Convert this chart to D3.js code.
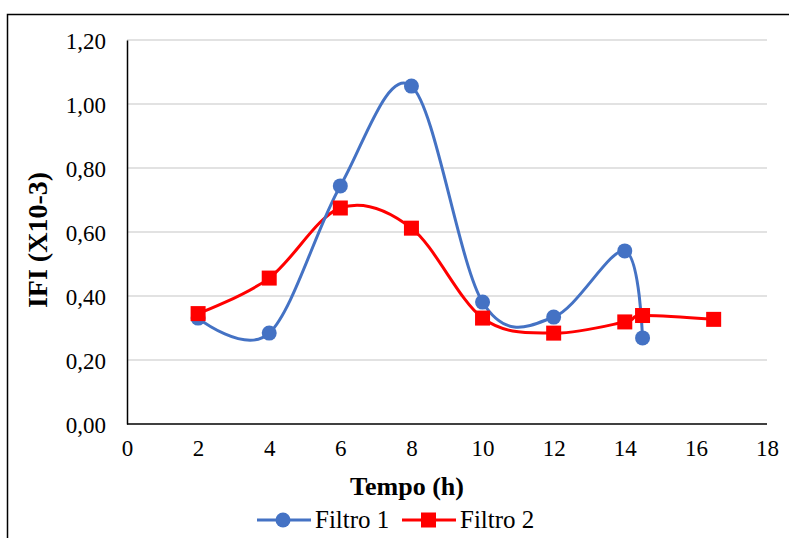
<!DOCTYPE html>
<html><head><meta charset="utf-8">
<script src="https://cdn.jsdelivr.net/npm/d3@7"></script>
<style>body{margin:0;background:#fff}svg{display:block}</style>
</head><body>
<svg id="c" width="789" height="538"></svg>
<script>
const xTicks = [0,2,4,6,8,10,12,14,16,18];
const yTicks = [0,0.2,0.4,0.6,0.8,1.0,1.2];
const seriesNames = ["Filtro 1","Filtro 2"];
const f1x = [2,4,6,8,10,12,14,14.5];
const f1y = [0.331,0.284,0.744,1.056,0.381,0.334,0.541,0.269];
const f2x = [2,4,6,8,10,12,14,14.5,16.5];
const f2y = [0.345,0.456,0.675,0.612,0.331,0.284,0.319,0.339,0.327];
const colors = ["#4472C4","#FF0000"];
const FONT = '"Liberation Serif"';

const svg = d3.select("#c");
const L=127,R=767,T=40,B=424;
const x = d3.scaleLinear().domain([0,18]).range([L,R]);
const y = d3.scaleLinear().domain([0,1.2]).range([B,T]);
const fmt = d3.format(".2f");

svg.append("rect").attr("x",7.5).attr("y",14.5).attr("width",800).attr("height",600)
  .attr("fill","none").attr("stroke","#000").attr("stroke-width",1.5);

// gridlines
svg.append("g").selectAll("line").data(yTicks.filter(d=>d>0)).join("line")
  .attr("x1",L).attr("x2",R).attr("y1",d=>y(d)).attr("y2",d=>y(d))
  .attr("stroke","#d9d9d9").attr("stroke-width",1.3);

// axes
const yAx = svg.append("g").attr("transform",`translate(${L},0)`)
  .call(d3.axisLeft(y).tickValues(yTicks).tickSize(0).tickPadding(21).tickFormat(d=>fmt(d).replace(".",",")));
const xAx = svg.append("g").attr("transform",`translate(0,${B})`)
  .call(d3.axisBottom(x).tickValues(xTicks).tickSize(0).tickPadding(16));
[yAx,xAx].forEach(a=>{
  a.attr("font-family",null).attr("font-size",null);
  a.select(".domain").attr("stroke","#000").attr("stroke-width",1.5);
  a.selectAll("text").style("font-family",FONT).style("font-size","23px").attr("fill","#000");
});
yAx.selectAll("text").attr("dy","0.35em");
xAx.select(".domain").attr("d",`M${L},0H${R}`);

// titles
svg.append("text").attr("x",407).attr("y",495).attr("text-anchor","middle")
  .style("font-family",FONT).style("font-size","26px").style("font-weight","bold").text("Tempo (h)");
svg.append("text").attr("transform","translate(47,240) rotate(-90)").attr("text-anchor","middle")
  .style("font-family",FONT).style("font-size","28px").style("font-weight","bold").text("IFI (X10-3)");

const line = d3.line().x(d=>x(d[0])).y(d=>y(d[1])).curve(d3.curveCardinal.tension(0));
const d1 = f1x.map((v,i)=>[v,f1y[i]]);
const d2 = f2x.map((v,i)=>[v,f2y[i]]);

svg.append("path").datum(d2).attr("d",line).attr("fill","none").attr("stroke",colors[1]).attr("stroke-width",3);
svg.append("path").datum(d1).attr("d",line).attr("fill","none").attr("stroke",colors[0]).attr("stroke-width",3);

svg.append("g").selectAll("circle").data(d1).join("circle")
  .attr("cx",d=>x(d[0])).attr("cy",d=>y(d[1])).attr("r",7.5).attr("fill",colors[0]);
svg.append("g").selectAll("rect").data(d2).join("rect")
  .attr("x",d=>x(d[0])-7.5).attr("y",d=>y(d[1])-7.5).attr("width",15).attr("height",15).attr("fill",colors[1]);

// legend
const lg = svg.append("g");
const items = [{x:257,name:seriesNames[0],c:colors[0],m:"c"},{x:402,name:seriesNames[1],c:colors[1],m:"s"}];
items.forEach(it=>{
  lg.append("line").attr("x1",it.x).attr("x2",it.x+54).attr("y1",520).attr("y2",520).attr("stroke",it.c).attr("stroke-width",3);
  if(it.m==="c") lg.append("circle").attr("cx",it.x+26).attr("cy",520).attr("r",7.5).attr("fill",it.c);
  else lg.append("rect").attr("x",it.x+19).attr("y",512.5).attr("width",15).attr("height",15).attr("fill",it.c);
  lg.append("text").attr("x",it.x+58).attr("y",528).style("font-family",FONT).style("font-size","25px").text(it.name);
});
</script>
</body></html>
